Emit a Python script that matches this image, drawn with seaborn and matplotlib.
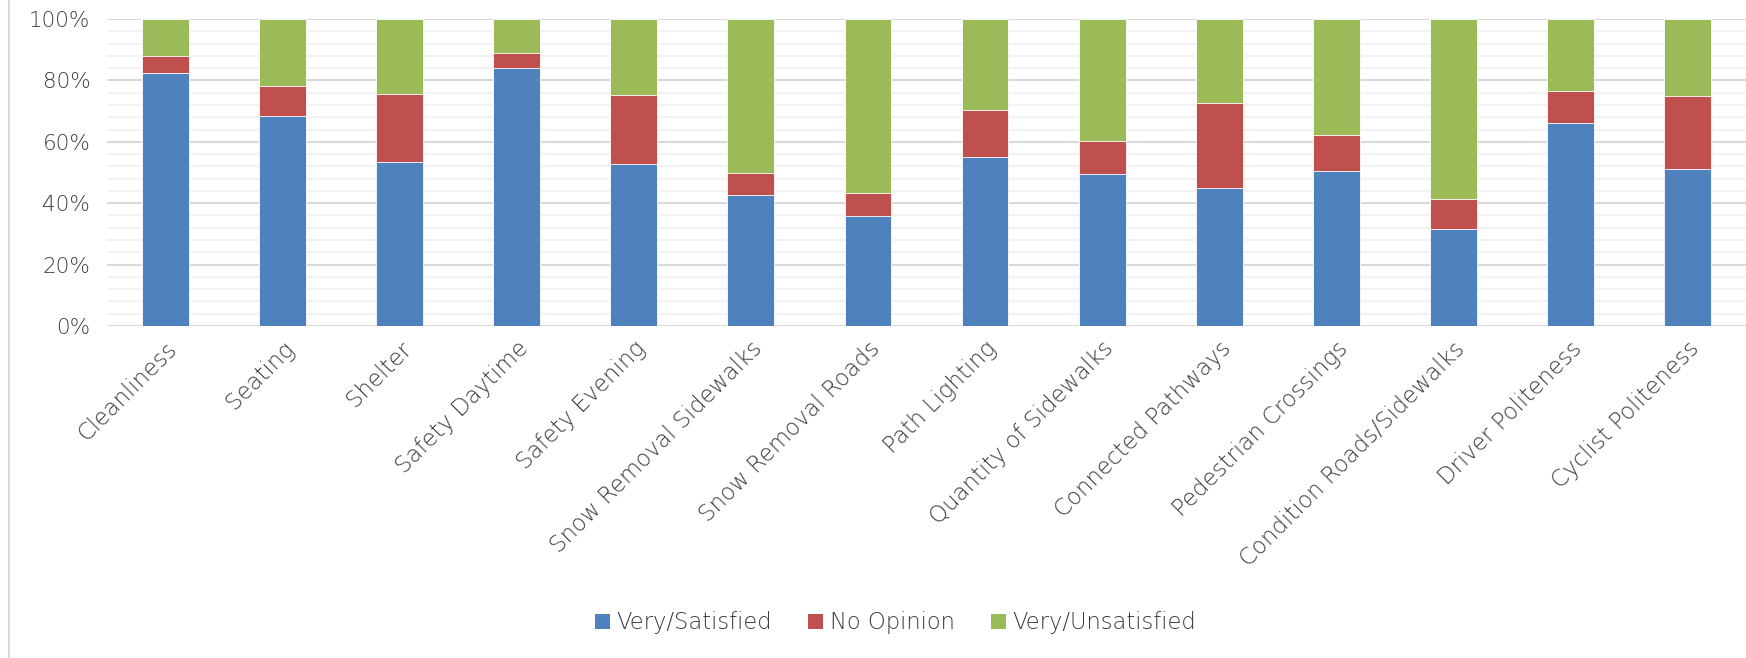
import matplotlib
matplotlib.use("Agg")
import matplotlib.pyplot as plt
import seaborn as sns
import pandas as pd
import numpy as np
from matplotlib.patches import Patch
from matplotlib.lines import Line2D
from matplotlib.ticker import MultipleLocator, FuncFormatter

categories = ["Cleanliness", "Seating", "Shelter", "Safety Daytime", "Safety Evening",
              "Snow Removal Sidewalks", "Snow Removal Roads", "Path Lighting",
              "Quantity of Sidewalks", "Connected Pathways", "Pedestrian Crossings",
              "Condition Roads/Sidewalks", "Driver Politeness", "Cyclist Politeness"]
satisfied = [82.4, 68.3, 53.3, 84.2, 52.9, 42.8, 35.9, 55.2, 49.5, 45.1, 50.4, 31.7, 66.2, 51.1]
no_opinion = [5.7, 9.9, 22.4, 4.7, 22.2, 7.1, 7.3, 15.1, 10.6, 27.7, 11.9, 9.7, 10.5, 23.8]
unsatisfied = [11.9, 21.8, 24.3, 11.1, 24.9, 50.1, 56.8, 29.7, 39.9, 27.2, 37.7, 58.6, 23.3, 25.1]
series_names = ["Very/Satisfied", "No Opinion", "Very/Unsatisfied"]
colors = ["#4f81bd", "#c0504d", "#9bbb59"]

sns.set_theme(style="white")
plt.rcParams['font.family'] = ['DejaVu Sans']
plt.rcParams['font.weight'] = 'light'
text_color = "#3c3c3c"

df = pd.DataFrame({"cat": categories, "s": satisfied, "n": no_opinion, "u": unsatisfied})
df["c1"] = df["s"]
df["c2"] = df["s"] + df["n"]
df["c3"] = df["s"] + df["n"] + df["u"]

fig = plt.figure(figsize=(17.46, 6.58), dpi=100)
ax = fig.add_axes([107/1746, 1-326/658, 1-107/1746, (326-19)/658])

for col, c in zip(["c3", "c2", "c1"], [colors[2], colors[1], colors[0]]):
    sns.barplot(data=df, x="cat", y=col, color=c, width=0.40, ax=ax,
                edgecolor="#ffffff", linewidth=0.6, saturation=1, zorder=3)

ax.set_ylim(0, 100)
ax.set_xlim(-0.5, len(categories) - 0.5)
ax.yaxis.set_major_locator(MultipleLocator(20))
ax.yaxis.set_minor_locator(MultipleLocator(4))
ax.yaxis.set_major_formatter(FuncFormatter(lambda v, p: f"{int(round(v))}%"))
ax.grid(which="major", axis="y", color="#d9d9d9", linewidth=1.5, zorder=0)
ax.grid(which="minor", axis="y", color="#f2f2f2", linewidth=1.5, zorder=0)
ax.grid(axis="x", visible=False)
ax.set_axisbelow(True)
for s in ax.spines.values():
    s.set_visible(False)
ax.tick_params(axis="both", which="both", length=0)
ax.tick_params(axis="y", labelsize=15.5, labelcolor=text_color, pad=12)
ax.set_xlabel("")
ax.set_ylabel("")
ax.set_xticks(range(len(categories)))
ax.set_xticklabels(categories, rotation=45, ha="right", rotation_mode="anchor",
                   fontsize=16.5, color=text_color, fontweight="light")
for lbl in ax.get_yticklabels():
    lbl.set_fontweight("light")
ax.tick_params(axis="x", pad=8)

handles = [Patch(facecolor=c, edgecolor="none") for c in colors]
fig.legend(handles, series_names, loc="center", bbox_to_anchor=(0.513, 1-623/658),
           ncol=3, frameon=False, prop={"size": 16.3, "weight": "light"},
           labelcolor=text_color,
           handlelength=0.65, handleheight=0.65, handletextpad=0.3, columnspacing=1.6)

fig.add_artist(Line2D([9/1746, 9/1746], [0, 1], transform=fig.transFigure,
                      color="#d9d9d9", linewidth=1.5))

fig.savefig("out.png", dpi=100)
